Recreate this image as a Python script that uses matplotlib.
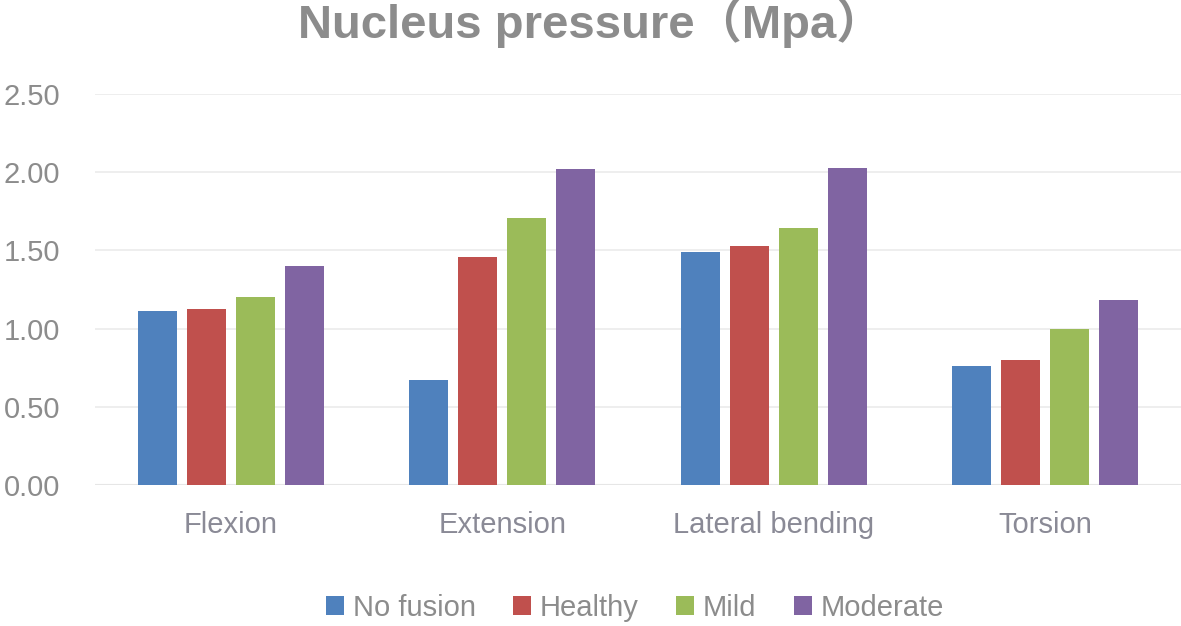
import matplotlib
matplotlib.use("Agg")
import matplotlib.pyplot as plt
import numpy as np

categories = ["Flexion", "Extension", "Lateral bending", "Torsion"]
series_names = ["No fusion", "Healthy", "Mild", "Moderate"]
no_fusion = [1.11, 0.67, 1.49, 0.76]
healthy = [1.125, 1.46, 1.53, 0.80]
mild = [1.20, 1.71, 1.645, 1.00]
moderate = [1.40, 2.02, 2.025, 1.18]
colors = ["#4F81BD", "#C0504D", "#9BBB59", "#8064A2"]
yticks = [0.0, 0.5, 1.0, 1.5, 2.0, 2.5]

plt.rcParams['font.family'] = ['Liberation Sans', 'Noto Sans CJK SC', 'DejaVu Sans']
text_color = "#8C8C8C"

fig = plt.figure(figsize=(11.81, 6.26), dpi=100)
ax = fig.add_axes([95/1181, 1-485/626, 1-95/1181, (485-94)/626])

x = np.arange(len(categories))
width = 0.1436
step = 0.18
for i, (vals, name, c) in enumerate(zip([no_fusion, healthy, mild, moderate], series_names, colors)):
    ax.bar(x + (i - 1.5) * step, vals, width, color=c, label=name, zorder=3)

ax.set_xlim(-0.5, len(categories) - 0.5)
ax.set_ylim(0, 2.5)
ax.set_yticks(yticks)
ax.set_yticklabels([f"{v:.2f}" for v in yticks])
ax.set_xticks(x)
ax.set_xticklabels(categories)
ax.tick_params(axis='y', length=0, pad=25, labelsize=21, labelcolor=text_color)
ax.tick_params(axis='x', length=0, pad=19, labelsize=21, labelcolor="#8A8A96")
ax.grid(axis='y', color="#EBEBEB", linewidth=1.2, zorder=0)
ax.set_axisbelow(True)
for s in ax.spines.values():
    s.set_visible(False)
ax.axhline(0, color="#E6E6E6", linewidth=1.5, zorder=2)

fig.text(0.5, 1-23/626, "Nucleus pressure（Mpa）", ha='center', va='center',
         fontsize=34, fontweight='bold', color=text_color)

leg = fig.legend(loc='center', bbox_to_anchor=(635/1181, 1-608/626), ncol=4, frameon=False,
                 fontsize=21, handlelength=0.6, handleheight=0.6, handletextpad=0.3,
                 columnspacing=1.3, labelcolor=text_color)

fig.savefig("out.png", dpi=100)
